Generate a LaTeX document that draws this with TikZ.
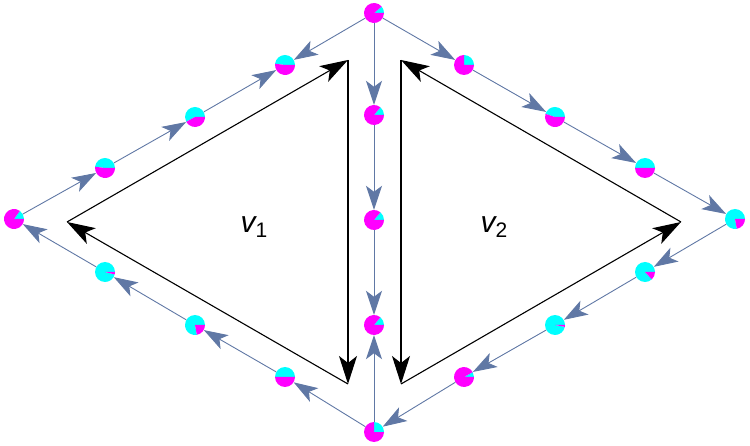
\documentclass[tikz,border=0pt]{standalone}
\usepackage{fontspec}
\setmainfont{Liberation Sans}
\usetikzlibrary{arrows.meta}

\definecolor{edgeblue}{RGB}{96,120,165}
\definecolor{piecyan}{RGB}{0,255,255}
\definecolor{piemag}{RGB}{255,0,255}

% vertex drawn as a two-slice pie: #1 name, #2 position, #3 cyan share
\newcommand\piedot[3]{%
  \node[dotnode] (#1) at (#2) {};
  \fill[piecyan] (#1.center) -- ++(0:10pt)
    arc[start angle=0, end angle={360*#3}, radius=10pt] -- cycle;
  \fill[piemag] (#1.center) -- ++({360*#3}:10pt)
    arc[start angle={360*#3}, end angle=360, radius=10pt] -- cycle;
}

\begin{document}
\begin{tikzpicture}[x=1pt,y=-1pt,
  dotnode/.style={circle, inner sep=0pt, minimum size=20pt},
  flow/.style={draw=edgeblue, line width=0.9pt,
    -{Stealth[length=24pt, width=16pt, inset=6pt, fill=edgeblue]}},
  cycleedge/.style={draw=black, line width=1.1pt,
    -{Stealth[length=28pt, width=18pt, inset=7pt]}},
  facelabel/.style={inner sep=0pt}]

\useasboundingbox (0,0) rectangle (750,446);

% ---- vertices ----
\piedot{T}{374,13}{0.11}
\piedot{L}{14,219}{0.15}
\piedot{R}{735,219}{0.78}
\piedot{B}{374,432}{0.25}
\piedot{a1}{105,168}{0.48}
\piedot{a2}{195,117}{0.58}
\piedot{a3}{285,65}{0.48}
\piedot{b1}{464,65}{0.25}
\piedot{b2}{555,117}{0.45}
\piedot{b3}{645,168}{0.5}
\piedot{m1}{374,115}{0.14}
\piedot{m2}{374,220}{0.14}
\piedot{m3}{374,325}{0.14}
\piedot{c1}{105,272}{0.96}
\piedot{c2}{195,325}{0.78}
\piedot{c3}{285,377}{0.5}
\piedot{d1}{645,272}{0.87}
\piedot{d2}{555,325}{0.97}
\piedot{d3}{464,377}{0.08}

% ---- directed edges ----
\draw[flow] (T) -- (a3);
\draw[flow] (L) -- (a1);
\draw[flow] (a1) -- (a2);
\draw[flow] (a2) -- (a3);
\draw[flow] (T) -- (b1);
\draw[flow] (b1) -- (b2);
\draw[flow] (b2) -- (b3);
\draw[flow] (b3) -- (R);
\draw[flow] (T) -- (m1);
\draw[flow] (m1) -- (m2);
\draw[flow] (m2) -- (m3);
\draw[flow] (B) -- (m3);
\draw[flow] (B) -- (c3);
\draw[flow] (c3) -- (c2);
\draw[flow] (c2) -- (c1);
\draw[flow] (c1) -- (L);
\draw[flow] (R) -- (d1);
\draw[flow] (d1) -- (d2);
\draw[flow] (d2) -- (d3);
\draw[flow] (d3) -- (B);

% ---- face cycles ----
\coordinate (p1) at (67,222);
\coordinate (p2) at (348,60);
\coordinate (p3) at (348,384);
\draw[cycleedge] (p1) -- (p2);
\draw[cycleedge] (p2) -- (p3);
\draw[cycleedge] (p3) -- (p1);

\coordinate (q1) at (681,222);
\coordinate (q2) at (401,60);
\coordinate (q3) at (401,384);
\draw[cycleedge] (q2) -- (q3);
\draw[cycleedge] (q3) -- (q1);
\draw[cycleedge] (q1) -- (q2);

% ---- face labels ----
\node[facelabel] (v1) at (254,227)
  {{\fontsize{30}{30}\selectfont\itshape v}\raisebox{-5pt}{\fontsize{21}{21}\selectfont 1}};
\node[facelabel] (v2) at (494,227)
  {{\fontsize{30}{30}\selectfont\itshape v}\raisebox{-5pt}{\fontsize{21}{21}\selectfont 2}};

\end{tikzpicture}
\end{document}
